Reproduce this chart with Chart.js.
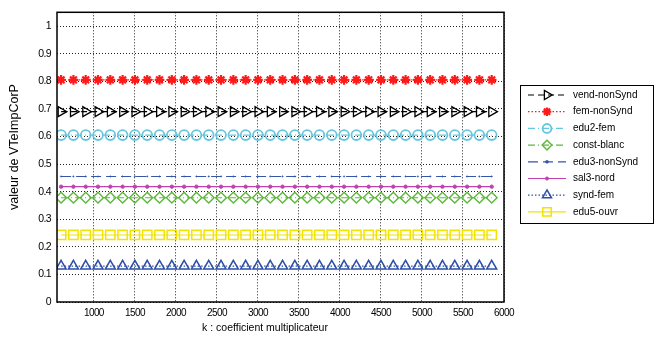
<!DOCTYPE html>
<html>
<head>
<meta charset="utf-8">
<script src="https://cdn.jsdelivr.net/npm/chart.js@4/dist/chart.umd.min.js"></script>
<style>
  html, body { margin: 0; padding: 0; background: #fff; }
  canvas { display: block; }
</style>
</head>
<body>
<canvas id="chart" width="655" height="337"></canvas>
<script>
// ── Data ──────────────────────────────────────────────────────
const kValues = [600, 750, 900, 1050, 1200, 1350, 1500, 1650, 1800, 1950, 2100, 2250,
                 2400, 2550, 2700, 2850, 3000, 3150, 3300, 3450, 3600, 3750, 3900, 4050,
                 4200, 4350, 4500, 4650, 4800, 4950, 5100, 5250, 5400, 5550, 5700, 5850];

const seriesNames  = ['vend-nonSynd', 'fem-nonSynd', 'edu2-fem', 'const-blanc',
                      'edu3-nonSynd', 'sal3-nord', 'synd-fem', 'edu5-ouvr'];
// every series is flat over k: one value for each
const seriesLevels = [0.69, 0.805, 0.605, 0.378, 0.455, 0.418, 0.13, 0.243];

const xTicks = [1000, 1500, 2000, 2500, 3000, 3500, 4000, 4500, 5000, 5500, 6000];
const yTicks = [0, 0.1, 0.2, 0.3, 0.4, 0.5, 0.6, 0.7, 0.8, 0.9, 1];
const yTickLabels = ['0', '0.1', '0.2', '0.3', '0.4', '0.5', '0.6', '0.7', '0.8', '0.9', '1'];

const xTitle = 'k : coefficient multiplicateur';
const yTitle = 'valeur de VTeImpCorP';

// ── Styles (matlab-ish) ──────────────────────────────────────
const styles = [
    { color: '#000000', dash: [6, 4],       marker: 'triangle', radius: 5.8, rot: 90, bw: 1.3 },
    { color: '#ff1a1a', dash: [1.5, 2],     marker: 'star',     radius: 4.8, rot: 0,  bw: 2.2 },
    { color: '#66c6de', dash: [7, 3, 1, 3], marker: 'circle',   radius: 4.9, rot: 0,  bw: 1.8 },
    { color: '#5cb83c', dash: [7, 3, 1, 3], marker: 'rectRot',  radius: 5.4, rot: 0,  bw: 1.4 },
    { color: '#3555a8', dash: [10, 5],      marker: 'circle',   radius: 0.7, rot: 0,  bw: 0.5 },
    { color: '#c040b0', dash: [],           marker: 'circle',   radius: 1.7, rot: 0,  bw: 1   },
    { color: '#2e4fa8', dash: [1.5, 2],     marker: 'triangle', radius: 5.8, rot: 0,  bw: 1.5 },
    { color: '#f2e400', dash: [],           marker: 'rect',     radius: 6.6, rot: 0,  bw: 1.5 },
];

const FONT = "'Liberation Sans', Arial, sans-serif";

const datasets = seriesNames.map((name, i) => {
    const s = styles[i];
    const filled = s.radius < 2;
    return {
        label: name,
        data: kValues.map(k => ({ x: k, y: seriesLevels[i] })),
        borderColor: s.color,
        borderWidth: 1.1,
        borderDash: s.dash,
        pointStyle: s.marker,
        pointRadius: s.radius,
        pointRotation: s.rot,
        pointBorderWidth: s.bw,
        pointBorderColor: s.color,
        pointBackgroundColor: filled ? s.color : 'rgba(0,0,0,0)',
        tension: 0,
        fill: false,
    };
});

// ── Plugins ───────────────────────────────────────────────────
// squeeze tick text a bit, like the old matlab export
const squeezePlugin = {
    id: 'squeeze',
    beforeLayout(chart) { chart.ctx.letterSpacing = '-0.6px'; },
    beforeDraw(chart)   { chart.ctx.letterSpacing = '-0.6px'; },
    afterDatasetsDraw(chart) { chart.ctx.letterSpacing = '0px'; },
};

const boxPlugin = {
    id: 'axisBox',
    afterDraw(chart) {
        const { ctx, chartArea: a } = chart;
        ctx.save();
        ctx.letterSpacing = '0px';
        ctx.strokeStyle = '#000';
        ctx.lineWidth = 1.5;
        ctx.strokeRect(a.left, a.top, a.right - a.left, a.bottom - a.top);

        // axis titles
        ctx.fillStyle = '#000';
        ctx.textAlign = 'center';
        ctx.textBaseline = 'middle';
        ctx.font = `10.5px ${FONT}`;
        ctx.fillText(xTitle, 265, 328);
        ctx.translate(15, 147);
        ctx.rotate(-Math.PI / 2);
        ctx.font = `12.5px ${FONT}`;
        ctx.fillText(yTitle, 0, 0);
        ctx.restore();
    }
};

const legendPlugin = {
    id: 'matlabLegend',
    afterDraw(chart) {
        const ctx = chart.ctx;
        const bx = 520.5, by = 85.5, bw = 133, bh = 138;
        ctx.save();
        ctx.letterSpacing = '0px';
        ctx.fillStyle = '#fff';
        ctx.fillRect(bx, by, bw, bh);
        ctx.strokeStyle = '#000';
        ctx.lineWidth = 1;
        ctx.strokeRect(bx, by, bw, bh);

        chart.data.datasets.forEach((ds, i) => {
            const y = 95 + i * 16.7;
            ctx.strokeStyle = ds.borderColor;
            ctx.lineWidth = 1.2;
            ctx.setLineDash(ds.borderDash);
            ctx.beginPath();
            ctx.moveTo(528, y);
            ctx.lineTo(566, y);
            ctx.stroke();
            ctx.setLineDash([]);

            ctx.fillStyle = ds.pointBackgroundColor;
            ctx.strokeStyle = ds.pointBorderColor;
            ctx.lineWidth = ds.pointBorderWidth;
            Chart.helpers.drawPoint(ctx, {
                pointStyle: ds.pointStyle,
                radius: Math.max(ds.pointRadius * 0.9, 1.5),
                borderWidth: ds.pointBorderWidth,
                rotation: ds.pointRotation,
            }, 547, y);

            ctx.fillStyle = '#000';
            ctx.font = `10px ${FONT}`;
            ctx.textBaseline = 'middle';
            ctx.textAlign = 'left';
            ctx.fillText(ds.label, 573, y);
        });
        ctx.restore();
    }
};

// ── Chart ─────────────────────────────────────────────────────
new Chart(document.getElementById('chart'), {
    type: 'line',
    data: { datasets },
    options: {
        responsive: false,
        animation: false,
        devicePixelRatio: 1,
        layout: { padding: { left: 0, right: 151, top: 5, bottom: 0 } },
        plugins: {
            legend: { display: false },
            tooltip: { enabled: false },
        },
        scales: {
            x: {
                type: 'linear',
                min: 550,
                max: 6000,
                afterBuildTicks: s => { s.ticks = xTicks.map(v => ({ value: v })); },
                afterFit: s => { s.height = 35; },
                grid: { color: '#222', lineWidth: 1, drawTicks: false },
                border: { display: false, dash: [1, 2] },
                ticks: {
                    color: '#000',
                    font: { family: FONT, size: 10 },
                    padding: 5,
                    maxRotation: 0,
                    autoSkip: false,
                    callback: v => String(v),
                },
            },
            y: {
                min: 0,
                max: 1.05,
                afterBuildTicks: s => { s.ticks = yTicks.map(v => ({ value: v })); },
                afterFit: s => { s.width = 57; },
                grid: { color: '#222', lineWidth: 1, drawTicks: false },
                border: { display: false, dash: [1, 2] },
                ticks: {
                    color: '#000',
                    font: { family: FONT, size: 10.5 },
                    padding: 6,
                    autoSkip: false,
                    callback: (v, i) => yTickLabels[i],
                },
            },
        },
    },
    plugins: [squeezePlugin, boxPlugin, legendPlugin],
});
</script>
</body>
</html>
